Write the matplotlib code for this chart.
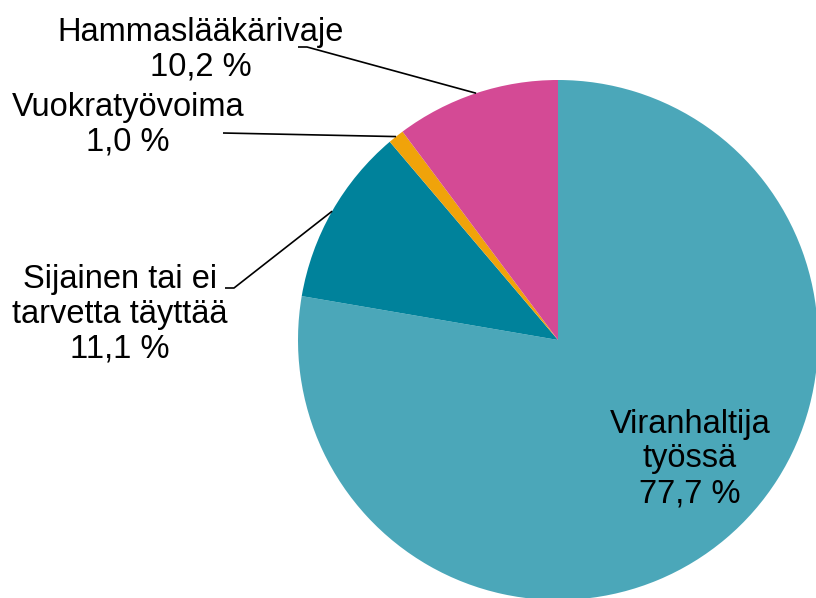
import numpy as np
import matplotlib.pyplot as plt

plt.rcParams['font.family'] = ['Liberation Sans', 'DejaVu Sans']

labels = ['Viranhaltija\ntyössä', 'Sijainen tai ei\ntarvetta täyttää', 'Vuokratyövoima', 'Hammaslääkärivaje']
shares = [77.7, 11.1, 1.0, 10.2]
colors = ['#4BA7B9', '#00829B', '#F0A30A', '#D44A95']

W, H = 816, 598
fig = plt.figure(figsize=(W / 100, H / 100), dpi=100)
ax = fig.add_axes([0, 0, 1, 1])

cx, cy, r = 558, H - 340, 260
wedges, _ = ax.pie(shares, colors=colors, startangle=90, counterclock=False,
                   center=(cx, cy), radius=r, frame=True,
                   wedgeprops=dict(linewidth=0))
ax.set_xlim(0, W)
ax.set_ylim(0, H)
ax.set_aspect('equal')
ax.axis('off')

def fmt(v):
    return f"{v:.1f}".replace('.', ',') + ' %'

# label text positions (pixels from top-left) and leader line start/elbow
label_pos = [(690, 459), (120, 314), (128, 125), (201, 50)]
leaders = [None, [(225, 288), (234, 288)], [(223, 133)], [(298, 47), (307, 47)]]

for w, lab, v, (tx, ty), lead in zip(wedges, labels, shares, label_pos, leaders):
    ax.text(tx, H - ty, f"{lab}\n{fmt(v)}", ha='center', va='center',
            fontsize=23.5, linespacing=1.16, color='black')
    if lead:
        ang = np.deg2rad((w.theta1 + w.theta2) / 2)
        px = cx + r * np.cos(ang)
        py = cy + r * np.sin(ang)
        xs = [p[0] for p in lead] + [px]
        ys = [H - p[1] for p in lead] + [py]
        ax.plot(xs, ys, color='black', lw=1.2, solid_capstyle='butt')

fig.savefig('out.png', dpi=100)
